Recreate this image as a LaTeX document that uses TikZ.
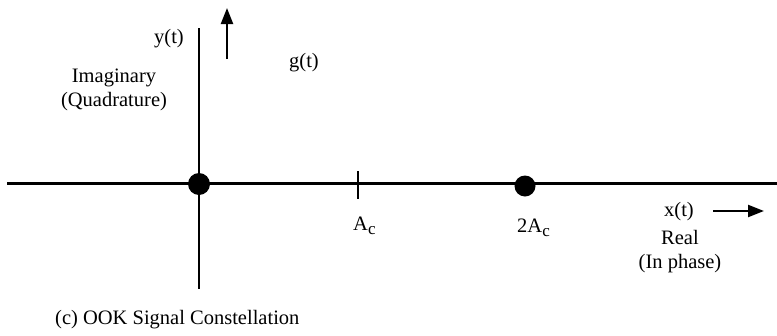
\documentclass[tikz,border=0pt]{standalone}
\usepackage{fontspec}
\setmainfont{Liberation Serif}
\usetikzlibrary{arrows.meta}
\newcommand{\subc}{\raisebox{-4pt}{\fontsize{17}{19}\selectfont c}}
\begin{document}
\begin{tikzpicture}[x=1pt,y=-1pt,
  axis/.style={line width=2.2pt},
  lbl/.style={font=\fontsize{20.5}{24}\selectfont, inner sep=0pt},
  pt/.style={circle, fill=black, inner sep=0pt, minimum size=22pt},
  arr/.style={line width=2.2pt, -{Triangle[length=16pt,width=12pt]}}]
\useasboundingbox (0,0) rectangle (777,335);
\coordinate (hl) at (7,183.5);
\coordinate (hr) at (777,183.5);
\coordinate (vt) at (199,28);
\coordinate (vb) at (199,289);
\draw[axis] (hl) -- (hr);
\draw[axis] (vt) -- (vb);
\node[pt] (o) at (199,184) {};
\node[pt, minimum size=21pt] (p2) at (525,186) {};
\coordinate (t1) at (358,171);
\coordinate (t2) at (358,199);
\draw[axis] (t1) -- (t2);
\coordinate (ua) at (227,59);
\coordinate (ub) at (227,8);
\draw[arr] (ua) -- (ub);
\coordinate (ra) at (713,211);
\coordinate (rb) at (764,211);
\draw[arr] (ra) -- (rb);
\node[lbl, anchor=east] (yt) at (184,39) {y(t)};
\node[lbl, align=center] (im) at (114,90) {Imaginary\\(Quadrature)};
\node[lbl] (gt) at (304,63) {g(t)};
\node[lbl, anchor=base west] (ac) at (353,230) {A\subc};
\node[lbl, anchor=base west] (tac) at (517,232) {2A\subc};
\node[lbl] (xt) at (679,212) {x(t)};
\node[lbl, align=center] (re) at (680,252) {Real\\(In phase)};
\node[lbl, anchor=west] (cap) at (55,320) {(c) OOK Signal Constellation};
\end{tikzpicture}
\end{document}
